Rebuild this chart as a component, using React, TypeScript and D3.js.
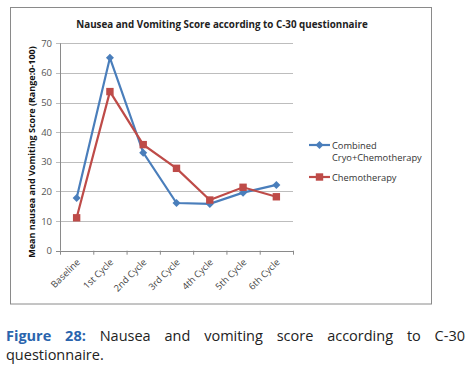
import React, { useLayoutEffect, useRef } from "react";
import * as d3 from "d3";

const categories = ["Baseline", "1st Cycle", "2nd Cycle", "3rd Cycle", "4th Cycle", "5th Cycle", "6th Cycle"];
const combinedValues = [17.8, 65.1, 33.1, 16.1, 15.8, 19.6, 22.2];
const chemoValues = [11.1, 53.7, 35.8, 27.8, 17.1, 21.4, 18.2];
const yTicks = [0, 10, 20, 30, 40, 50, 60, 70];

const BLUE = "#4a7ebb";
const RED = "#be4b48";
const FONT = "'Open Sans', 'DejaVu Sans', sans-serif";

export default function App() {
  const capRef = useRef<SVGTextElement>(null);
  useLayoutEffect(() => {
    const el = capRef.current;
    if (!el) return;
    el.setAttribute("word-spacing", "0");
    const natural = el.getComputedTextLength();
    const target = 459;
    const gaps = 8;
    el.setAttribute("word-spacing", String((target - natural) / gaps));
  }, []);

  const left = 60, right = 293, top = 43.3, bottom = 250.7;
  const x = d3.scaleBand<string>().domain(categories).range([left, right]);
  const y = d3.scaleLinear().domain([0, 70]).range([bottom, top]);
  const cx = (c: string) => (x(c) as number) + x.bandwidth() / 2;
  const line = d3.line<number>().x((_, i) => cx(categories[i])).y((v) => y(v));

  const diamond = (px: number, py: number, r = 4) =>
    `M${px},${py - r}L${px + r},${py}L${px},${py + r}L${px - r},${py}Z`;

  return (
    <svg width={469} height={365} style={{ position: "absolute", left: 0, top: 0 }}>
      <rect x={0} y={0} width={469} height={365} fill="#fff" />
      <rect x={10.5} y={7.5} width={421} height={296.5} fill="#fff" stroke="#8a8a8a" strokeWidth={1} />
      <text x={222} y={27.5} textAnchor="middle" fontFamily={FONT} fontWeight="bold" fontSize={9.8} fill="#222">
        Nausea and Vomiting Score according to C-30 questionnaire
      </text>
      {yTicks.map((t) => (
        <g key={t}>
          <line x1={left - 4} x2={right} y1={Math.round(y(t)) + 0.5} y2={Math.round(y(t)) + 0.5}
            stroke={t === 0 ? "#8a8a8a" : "#bdbdbd"} strokeWidth={1} />
          <text x={52} y={y(t) + 3.5} textAnchor="end" fontFamily={FONT} fontSize={9.5} fill="#555">{t}</text>
        </g>
      ))}
      <line x1={left + 0.5} x2={left + 0.5} y1={top} y2={bottom} stroke="#8a8a8a" />
      {categories.map((c) => (
        <line key={c} x1={(x(c) as number) + 0.5} x2={(x(c) as number) + 0.5} y1={bottom} y2={bottom + 4} stroke="#8a8a8a" />
      ))}
      <line x1={right + 0.5} x2={right + 0.5} y1={bottom} y2={bottom + 4} stroke="#8a8a8a" />
      <text transform={`translate(34.5,${(top + bottom) / 2 + 5}) rotate(-90)`} textAnchor="middle"
        fontFamily={FONT} fontWeight="bold" fontSize={9} fill="#111">
        Mean nausea and Vomiting Score (Range:0-100)
      </text>
      {categories.map((c) => (
        <text key={c} transform={`translate(${cx(c) + 4},${bottom + 12}) rotate(-45)`} textAnchor="end"
          fontFamily={FONT} fontSize={9.3} fill="#444">{c}</text>
      ))}
      <path d={line(combinedValues) || ""} fill="none" stroke={BLUE} strokeWidth={2.2} />
      <path d={line(chemoValues) || ""} fill="none" stroke={RED} strokeWidth={2.2} />
      {combinedValues.map((v, i) => (
        <path key={i} d={diamond(cx(categories[i]), y(v))} fill={BLUE} />
      ))}
      {chemoValues.map((v, i) => (
        <rect key={i} x={cx(categories[i]) - 3.7} y={y(v) - 3.7} width={7.4} height={7.4} fill={RED} />
      ))}
      <line x1={309} x2={330} y1={145} y2={145} stroke={BLUE} strokeWidth={2.2} />
      <path d={diamond(319.5, 145)} fill={BLUE} />
      <text x={332} y={148.5} fontFamily={FONT} fontSize={9.3} fill="#333">Combined</text>
      <text x={332} y={161} fontFamily={FONT} fontSize={9.3} fill="#333">Cryo+Chemotherapy</text>
      <line x1={309} x2={330} y1={177} y2={177} stroke={RED} strokeWidth={2.2} />
      <rect x={315.8} y={173.3} width={7.4} height={7.4} fill={RED} />
      <text x={332} y={180.5} fontFamily={FONT} fontSize={9.3} fill="#333">Chemotherapy</text>
      <text ref={capRef} y={341} x={6} fontFamily={FONT} fontSize={14.5} fill="#222">
        <tspan fill="#2a64ad" fontWeight="bold">Figure 28:</tspan> Nausea and vomiting score according to C-30
      </text>
      <text x={6} y={359.5} fontFamily={FONT} fontSize={14.5} fill="#222">questionnaire.</text>
    </svg>
  );
}
